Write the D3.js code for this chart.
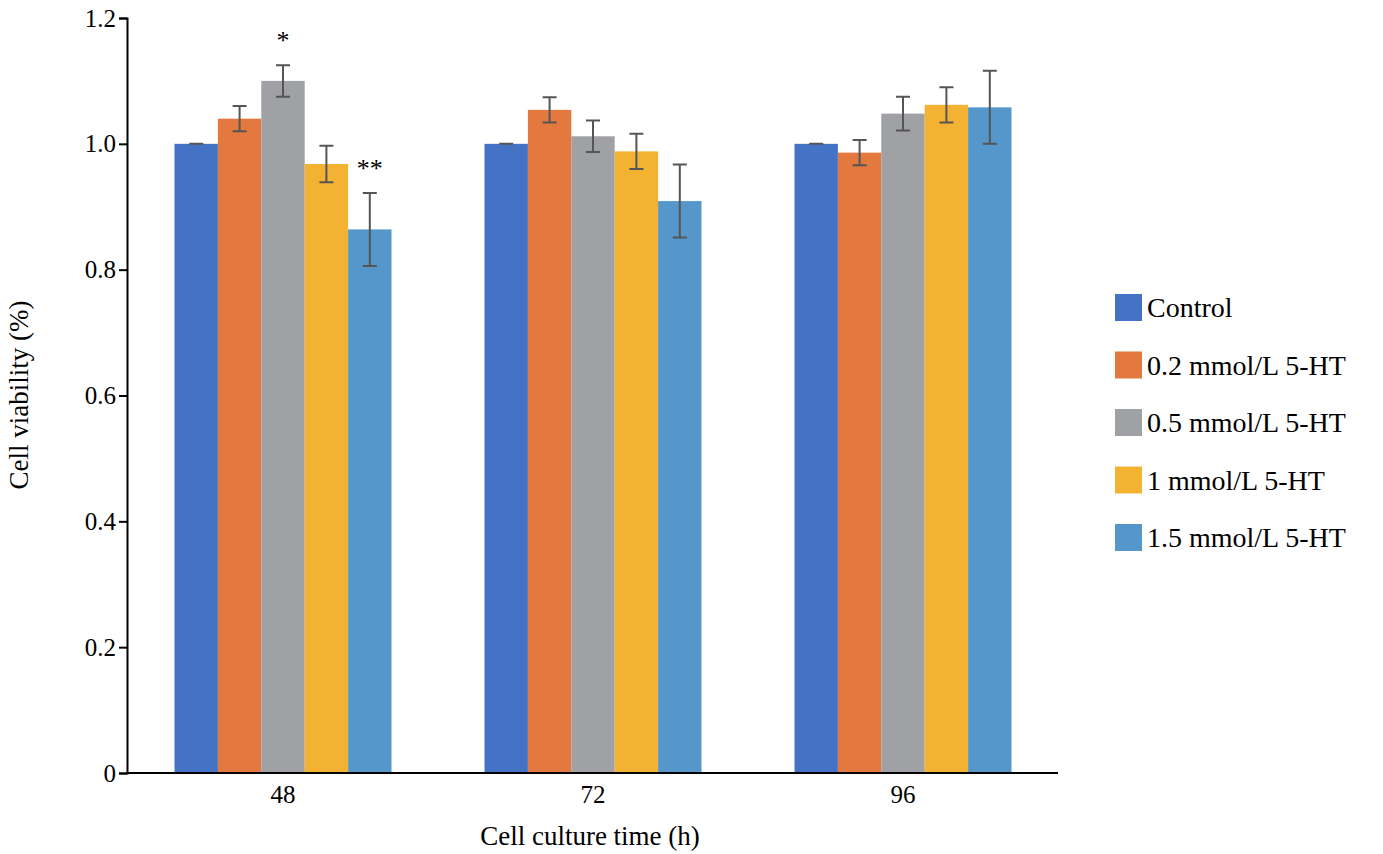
<!DOCTYPE html>
<html><head><meta charset="utf-8">
<script src="https://cdn.jsdelivr.net/npm/d3@7"></script>
<style>body{margin:0;background:#fff}text{font-family:"Liberation Serif","Times New Roman",serif}</style>
</head><body><svg id="c" width="1383" height="854"></svg>
<script>
const times = ["48", "72", "96"];
const series = ["Control", "0.2 mmol/L 5-HT", "0.5 mmol/L 5-HT", "1 mmol/L 5-HT", "1.5 mmol/L 5-HT"];
const colors = ["#4472c4", "#e3793f", "#a0a1a5", "#f4b233", "#5597cb"];
const means = [
  [1.0, 1.04, 1.10, 0.968, 0.864],
  [1.0, 1.054, 1.012, 0.988, 0.909],
  [1.0, 0.986, 1.048, 1.062, 1.058]
];
const errs = [
  [0, 0.02, 0.025, 0.029, 0.058],
  [0, 0.02, 0.025, 0.028, 0.058],
  [0, 0.02, 0.027, 0.028, 0.058]
];
const marks = [{t: 0, s: 2, label: "*"}, {t: 0, s: 4, label: "**"}];
const yTicks = [0, 0.2, 0.4, 0.6, 0.8, 1.0, 1.2];

const svg = d3.select("#c");
const x = d3.scaleBand().domain(times).range([128, 1058]).paddingInner(0.3).paddingOuter(0.15);
const xs = d3.scaleBand().domain(series).range([0, x.bandwidth()]);
const y = d3.scaleLinear().domain([0, 1.2]).range([773, 18]);

const g = svg.append("g");
times.forEach((t, i) => {
  series.forEach((s, j) => {
    const cx = x(t) + xs(s);
    g.append("rect").attr("x", cx).attr("width", xs.bandwidth()).attr("y", y(means[i][j]))
      .attr("height", y(0) - y(means[i][j])).attr("fill", colors[j]);
    const mx = cx + xs.bandwidth() / 2, e = errs[i][j];
    const lo = y(means[i][j] - e), hi = y(means[i][j] + e);
    g.append("path").attr("d", `M${mx},${lo}V${hi}M${mx-7},${lo}H${mx+7}M${mx-7},${hi}H${mx+7}`)
      .attr("stroke", "#555").attr("stroke-width", 2).attr("fill", "none");
  });
});
marks.forEach(m => {
  const s = series[m.s];
  svg.append("text").attr("x", x(times[m.t]) + xs(s) + xs.bandwidth() / 2)
    .attr("y", y(means[m.t][m.s] + errs[m.t][m.s]) - 16).attr("text-anchor", "middle")
    .attr("font-size", 26).text(m.label);
});

const ya = svg.append("g").attr("transform", "translate(127,0)")
  .call(d3.axisLeft(y).tickValues(yTicks).tickSize(8).tickFormat(d => d === 0 ? "0" : d3.format(".1f")(d)));
const xa = svg.append("g").attr("transform", "translate(0,773)")
  .call(d3.axisBottom(x).tickSize(0).tickPadding(12));
[ya, xa].forEach(a => {
  a.selectAll("path,line").attr("stroke", "#000").attr("stroke-width", 2);
  a.selectAll("text").attr("font-size", 25).attr("fill", "#000").attr("font-family", "Liberation Serif, serif");
});
xa.select(".domain").attr("d", "M127,0H1058");

svg.append("text").attr("x", 590).attr("y", 845).attr("text-anchor", "middle").attr("font-size", 27).text("Cell culture time (h)");
svg.append("text").attr("transform", "translate(28,395) rotate(-90)").attr("text-anchor", "middle").attr("font-size", 27).text("Cell viability (%)");

const lg = svg.append("g").attr("transform", "translate(1115,294)");
series.forEach((s, j) => {
  const row = lg.append("g").attr("transform", `translate(0,${j * 57.5})`);
  row.append("rect").attr("width", 27).attr("height", 27).attr("fill", colors[j]);
  row.append("text").attr("x", 32).attr("y", 23).attr("font-size", 28).text(s);
});
</script></body></html>
